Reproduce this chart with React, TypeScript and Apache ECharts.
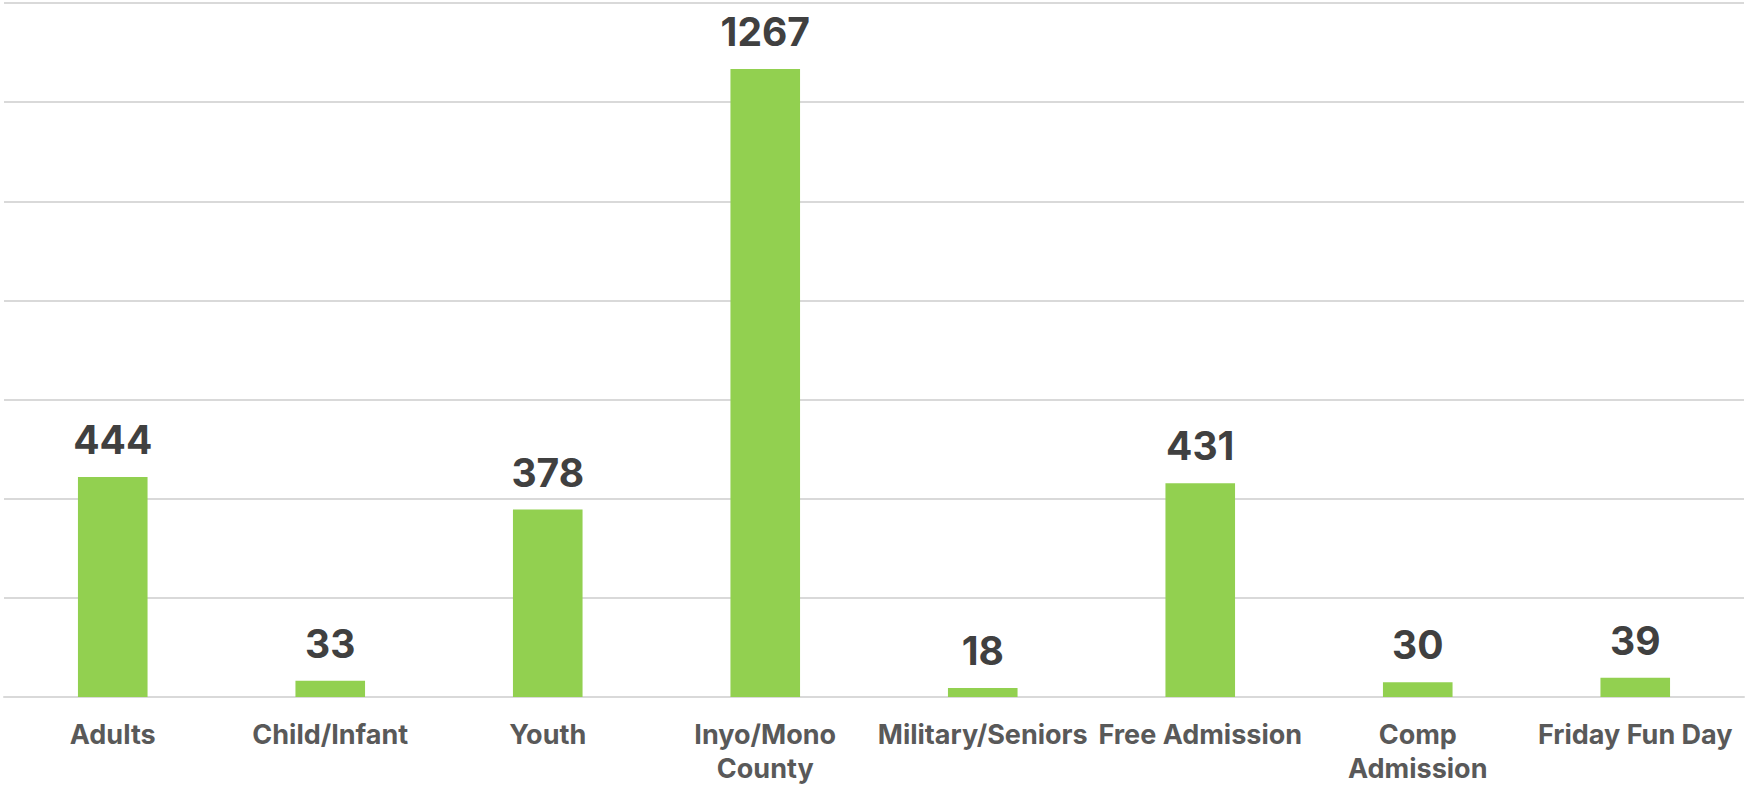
import React, { useEffect, useRef } from "react";
import * as echarts from "echarts";

const categories = [
  "Adults",
  "Child/Infant",
  "Youth",
  "Inyo/Mono\nCounty",
  "Military/Seniors",
  "Free Admission",
  "Comp\nAdmission",
  "Friday Fun Day",
];
const values = [444, 33, 378, 1267, 18, 431, 30, 39];
const yMin = 0;
const yMax = 1400;
const yInterval = 200;

export default function App() {
  const ref = useRef<HTMLDivElement>(null);
  useEffect(() => {
    if (!ref.current) return;
    const chart = echarts.init(ref.current, null, { renderer: "svg" });
    chart.setOption({
      animation: false,
      backgroundColor: "#ffffff",
      grid: { left: 4, right: 3, top: 3, bottom: 92, containLabel: false },
      xAxis: {
        type: "category",
        data: categories,
        axisLine: { show: true, lineStyle: { color: "#d9d9d9", width: 2 } },
        axisTick: { show: false },
        axisLabel: {
          interval: 0,
          color: "#595959",
          fontFamily: "Inter, 'Open Sans', sans-serif",
          fontWeight: "bold",
          fontSize: 27,
          lineHeight: 34,
          margin: 20,
        },
      },
      yAxis: {
        type: "value",
        min: yMin,
        max: yMax,
        interval: yInterval,
        axisLabel: { show: false },
        axisLine: { show: false },
        axisTick: { show: false },
        splitLine: { show: true, lineStyle: { color: "#d9d9d9", width: 2 } },
      },
      series: [
        {
          type: "bar",
          data: values,
          barWidth: "32%",
          itemStyle: { color: "#92d050" },
          label: {
            show: true,
            position: "top",
            distance: 18,
            color: "#404040",
            fontFamily: "Inter, 'Open Sans', sans-serif",
            fontWeight: "bold",
            fontSize: 39,
          },
        },
      ],
    });
    return () => chart.dispose();
  }, []);
  return (
    <div
      ref={ref}
      style={{ position: "fixed", left: 0, top: 0, width: 1747, height: 789 }}
    />
  );
}
